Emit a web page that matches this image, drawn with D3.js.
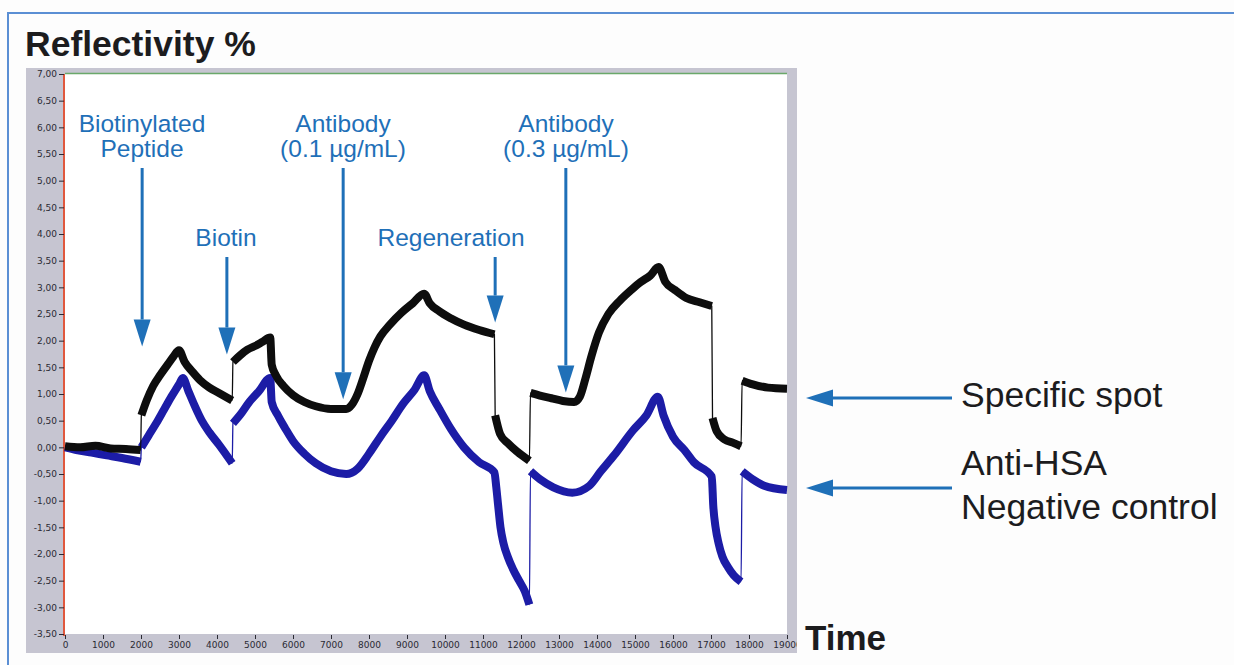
<!DOCTYPE html>
<html>
<head>
<meta charset="utf-8">
<script src="https://cdn.jsdelivr.net/npm/d3@7"></script>
<style>
  body { margin: 0; background: #fdfdfd; }
  svg { display: block; }
</style>
</head>
<body>
<svg></svg>
<script>
// time (x) and reflectivity % (y)
const specificTime = [0, 400, 800, 1200, 1600, 1990,
  2010, 2150, 2320, 2500, 2700, 2850, 3000,
  3150, 3350, 3550, 3800, 4050, 4400,
  4420, 4600, 4800, 5000, 5200, 5400,
  5440, 5550, 5750, 6000, 6300, 6600, 7000, 7400, 7550,
  7700, 7850, 8000, 8150, 8300, 8550, 8850, 9150, 9450,
  9600, 9850, 10150, 10500, 10900, 11300,
  11320, 11450, 11650, 11900, 12220,
  12250, 12500, 12800, 13100, 13400, 13550,
  13700, 13850, 14050, 14300, 14600, 14900, 15150, 15400, 15620,
  15800, 16050, 16350, 16700, 17020,
  17040, 17150, 17350, 17600, 17790,
  17820, 18100, 18500, 19000];
const specificValues = [0.02, 0.0, 0.03, -0.02, -0.03, -0.05,
  0.6, 0.88, 1.15, 1.35, 1.55, 1.7, 1.82,
  1.6, 1.42, 1.26, 1.12, 1.02, 0.88,
  1.6, 1.72, 1.83, 1.9, 1.98, 2.06,
  1.55, 1.35, 1.15, 0.98, 0.85, 0.77, 0.72, 0.72, 0.8,
  1.0, 1.3, 1.62, 1.88, 2.08, 2.3, 2.52, 2.7, 2.88,
  2.7, 2.55, 2.42, 2.3, 2.2, 2.12,
  0.6, 0.25, 0.08, -0.08, -0.25,
  1.02, 0.97, 0.92, 0.87, 0.85, 0.95,
  1.3, 1.7, 2.15, 2.5, 2.75, 2.95, 3.1, 3.22, 3.38,
  3.1, 2.95, 2.8, 2.72, 2.65,
  0.55, 0.3, 0.15, 0.08, 0.02,
  1.25, 1.18, 1.12, 1.1];

const controlTime = [0, 300, 700, 1100, 1500, 1990,
  2010, 2200, 2400, 2600, 2800, 3000, 3100,
  3250, 3400, 3600, 3800, 4050, 4400,
  4420, 4600, 4850, 5100, 5400,
  5440, 5600, 5800, 6000, 6300, 6600, 7000, 7400, 7700,
  8000, 8300, 8600, 8900, 9200, 9450,
  9600, 9850, 10150, 10500, 10900, 11300,
  11350, 11400, 11460, 11540, 11650, 11800, 11950, 12100, 12220,
  12250, 12500, 12850, 13350, 13800, 14100, 14450, 14950, 15300, 15600,
  15750, 16000, 16300, 16550, 17020,
  17060, 17120, 17200, 17300, 17450, 17600, 17790,
  17820, 18100, 18400, 19000];
const controlValues = [0.0, -0.05, -0.1, -0.15, -0.2, -0.27,
  0.0, 0.22, 0.45, 0.7, 0.95, 1.18, 1.3,
  1.05, 0.8, 0.5, 0.28, 0.05, -0.3,
  0.45, 0.6, 0.85, 1.05, 1.3,
  0.85, 0.6, 0.35, 0.12, -0.12, -0.3, -0.45, -0.5, -0.4,
  -0.12, 0.2, 0.5, 0.82, 1.08, 1.35,
  1.05, 0.72, 0.35, 0.0, -0.28, -0.47,
  -0.75, -1.1, -1.5, -1.8, -2.05, -2.3, -2.5, -2.7, -2.95,
  -0.45, -0.6, -0.75, -0.85, -0.72, -0.45, -0.15, 0.32, 0.6, 0.95,
  0.6, 0.2, -0.05, -0.28, -0.55,
  -1.1, -1.5, -1.8, -2.05, -2.25, -2.4, -2.52,
  -0.45, -0.6, -0.72, -0.8];

// ticks
const yTicks = d3.range(-3.5, 7.01, 0.5);
const xTicks = d3.range(0, 19001, 1000);

// injections: label lines, injection time, arrow tip value
const eventLabels = [["Biotinylated", "Peptide"], ["Biotin"], ["Antibody", "(0.1 µg/mL)"], ["Regeneration"], ["Antibody", "(0.3 µg/mL)"]];
const eventTimes = [2030, 4260, 7320, 11320, 13180];
const eventTips = [1.89, 1.74, 0.9, 2.34, 1.03];

const seriesNames = [["Specific spot"], ["Anti-HSA", "Negative control"]];

function drawChart() {
  const width = 1234;
  const height = 665;
  const blue = "#1f70b8";

  const svg = d3.select("svg")
    .attr("width", width)
    .attr("height", height);

  // scales
  const xScale = d3.scaleLinear().domain([0, 19000]).range([65, 787]);
  const yScale = d3.scaleLinear().domain([-3.5, 7]).range([634, 74]);

  // outer panel border
  svg.append("rect")
    .attr("x", 8).attr("y", 13)
    .attr("width", 1300).attr("height", 700)
    .attr("fill", "none")
    .attr("stroke", "#5b8fd4")
    .attr("stroke-width", 2);

  // grey instrument frame + white plot area
  svg.append("rect")
    .attr("x", 26).attr("y", 68)
    .attr("width", 771).attr("height", 585)
    .attr("fill", "#c6c5d1");
  svg.append("rect")
    .attr("x", 65).attr("y", 74)
    .attr("width", 722).attr("height", 560)
    .attr("fill", "#ffffff");

  // green top line
  svg.append("line")
    .attr("x1", 65).attr("x2", 787)
    .attr("y1", 73.5).attr("y2", 73.5)
    .attr("stroke", "#6aa86a")
    .attr("stroke-width", 1.5);

  // axes
  const fmt = (d) => d.toFixed(2).replace(".", ",");
  const yAxis = d3.axisLeft(yScale).tickValues(yTicks).tickFormat(fmt).tickSize(5).tickPadding(2);
  const xAxis = d3.axisBottom(xScale).tickValues(xTicks).tickFormat(d3.format("d")).tickSize(4).tickPadding(3);

  svg.append("clipPath").attr("id", "frame-clip")
    .append("rect").attr("x", 0).attr("y", 0).attr("width", 797).attr("height", height);

  const gx = svg.append("g")
    .attr("transform", `translate(0, 635)`)
    .attr("clip-path", "url(#frame-clip)")
    .call(xAxis);
  gx.select(".domain").remove();

  const gy = svg.append("g")
    .attr("transform", `translate(64, 0)`)
    .call(yAxis);
  gy.select(".domain")
    .attr("stroke", "#e0583e")
    .attr("stroke-width", 2)
    .attr("d", `M0,${yScale(7)}V${yScale(-3.5) + 2}`);

  svg.selectAll(".tick text")
    .style("font-family", "DejaVu Sans, sans-serif")
    .style("font-size", "9px")
    .attr("fill", "#2a2a33");
  svg.selectAll(".tick line").attr("stroke", "#2a2a33");

  // series: thick noisy band per segment, thin line through jumps
  const line = d3.line()
    .curve(d3.curveMonotoneX)
    .x((d) => xScale(d[0]))
    .y((d) => yScale(d[1]));

  function drawSeries(times, values, color) {
    const pts = times.map((t, i) => [t, values[i]]);
    svg.append("path")
      .attr("d", line(pts))
      .attr("fill", "none")
      .attr("stroke", color)
      .attr("stroke-width", 1.3);

    const segments = [[pts[0]]];
    for (let i = 1; i < pts.length; i++) {
      if (pts[i][0] - pts[i - 1][0] <= 30) segments.push([]);
      segments[segments.length - 1].push(pts[i]);
    }
    segments.forEach((seg) => {
      svg.append("path")
        .attr("d", line(seg))
        .attr("fill", "none")
        .attr("stroke", color)
        .attr("stroke-width", 8)
        .attr("stroke-linejoin", "round")
        .attr("stroke-linecap", "butt");
    });
  }
  drawSeries(controlTime, controlValues, "#1c1ca6");
  drawSeries(specificTime, specificValues, "#0d0d0d");

  // arrow helper (tip at x2,y2)
  function arrow(x1, y1, x2, y2) {
    const ang = Math.atan2(y2 - y1, x2 - x1);
    const len = 27, half = 8.5;
    const bx = x2 - len * Math.cos(ang), by = y2 - len * Math.sin(ang);
    svg.append("line")
      .attr("x1", x1).attr("y1", y1)
      .attr("x2", bx).attr("y2", by)
      .attr("stroke", blue)
      .attr("stroke-width", 3);
    svg.append("path")
      .attr("d", `M${x2},${y2}L${bx - half * Math.sin(ang)},${by + half * Math.cos(ang)}L${bx + half * Math.sin(ang)},${by - half * Math.cos(ang)}Z`)
      .attr("fill", blue);
  }

  // injection annotations
  const labelX = [142, 226, 343, 451, 566];
  eventLabels.forEach((lines, i) => {
    const x = xScale(eventTimes[i]);
    const lastBaseline = lines.length === 2 ? 157 : 246;
    lines.forEach((txt, j) => {
      svg.append("text")
        .attr("x", labelX[i])
        .attr("y", lastBaseline - (lines.length - 1 - j) * 25)
        .attr("text-anchor", "middle")
        .style("font-family", "Liberation Sans, Arial, sans-serif")
        .style("font-size", "24.5px")
        .attr("fill", blue)
        .text(txt);
    });
    arrow(x, lastBaseline + 11, x, yScale(eventTips[i]));
  });

  // series labels on the right
  const seriesArrowY = [398, 488];
  const seriesBaselines = [[407], [475, 519]];
  seriesNames.forEach((lines, i) => {
    arrow(952, seriesArrowY[i], 806, seriesArrowY[i]);
    lines.forEach((txt, j) => {
      svg.append("text")
        .attr("x", 961)
        .attr("y", seriesBaselines[i][j])
        .style("font-family", "Liberation Sans, Arial, sans-serif")
        .style("font-size", "35.5px")
        .attr("fill", "#1c1c1e")
        .text(txt);
    });
  });

  // axis headers
  svg.append("text")
    .attr("x", 25).attr("y", 56)
    .style("font-family", "Liberation Sans, Arial, sans-serif")
    .style("font-size", "35.5px")
    .style("font-weight", "bold")
    .attr("fill", "#1c1c1e")
    .text("Reflectivity %");

  svg.append("text")
    .attr("x", 805).attr("y", 650)
    .style("font-family", "Liberation Sans, Arial, sans-serif")
    .style("font-size", "35px")
    .style("font-weight", "bold")
    .attr("fill", "#1c1c1e")
    .text("Time");
}

drawChart();
</script>
</body>
</html>
